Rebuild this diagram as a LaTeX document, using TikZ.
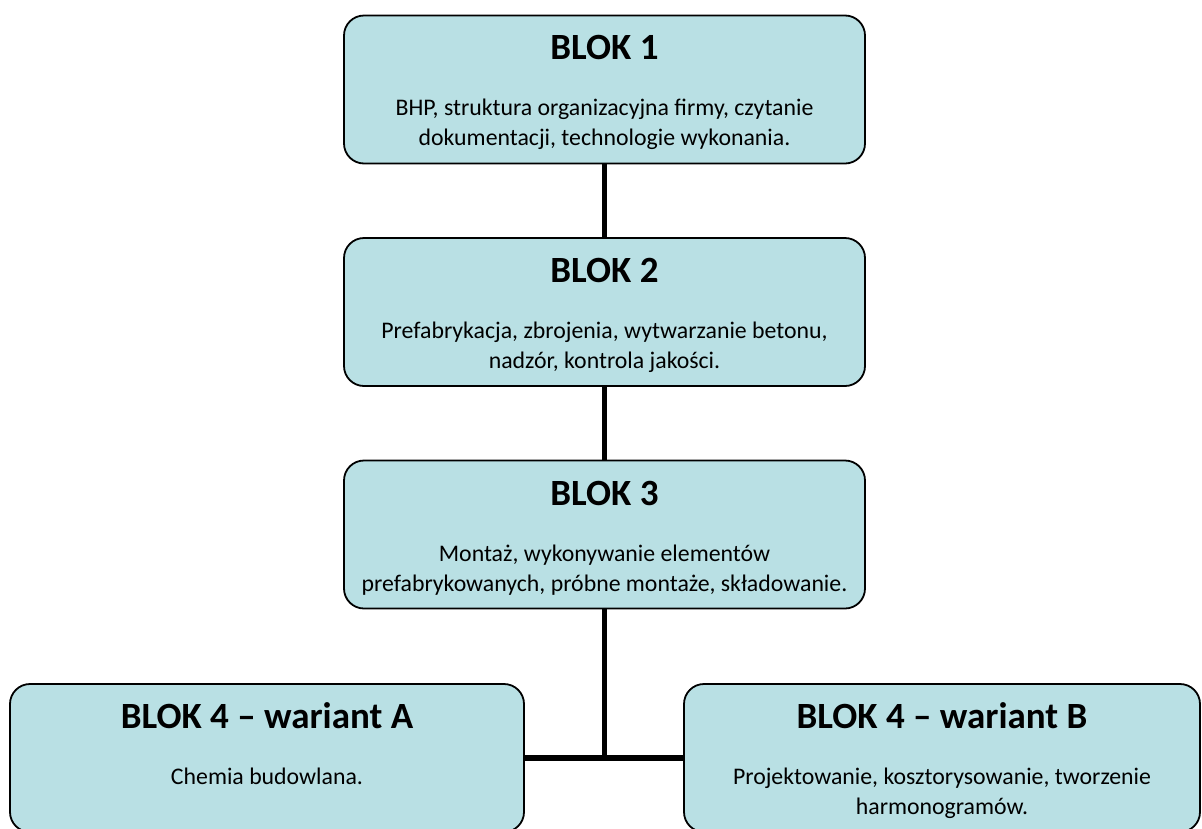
\documentclass[tikz,border=0pt]{standalone}
\usepackage{fontspec}
\setmainfont{Carlito}
\definecolor{boxfill}{RGB}{185,224,228}
\begin{document}
\begin{tikzpicture}[x=1pt,y=-1pt,
  blok/.style={draw=black, line width=1.8pt, fill=boxfill, rounded corners=20pt,
    minimum height=148pt, inner sep=0pt, outer sep=0pt},
  wide/.style={minimum width=521pt},
  title/.style={font=\fontsize{37}{40}\selectfont\bfseries, anchor=base, inner sep=0pt},
  body/.style={font=\fontsize{23.8}{28}\selectfont, anchor=base, inner sep=0pt},
  link/.style={draw=black, line width=5.5pt}
]
\useasboundingbox (0,0) rectangle (1202,828);
\clip (0,0) rectangle (1202,828);
% boxes
\node[blok, wide] (b1) at (604.5,89.5) {};
\node[blok, wide] (b2) at (604.5,312) {};
\node[blok, wide] (b3) at (604.5,534.5) {};
\node[blok, minimum width=514pt] (b4a) at (267,758) {};
\node[blok, minimum width=516pt] (b4b) at (942,758) {};
% texts
\node[title] (t1) at (604.5,59.5) {BLOK 1};
\node[body] (t1a) at (604.5,115) {BHP, struktura organizacyjna firmy, czytanie};
\node[body] (t1b) at (604.5,145) {dokumentacji, technologie wykonania.};
\node[title] (t2) at (604.5,282.5) {BLOK 2};
\node[body] (t2a) at (604.5,338) {Prefabrykacja, zbrojenia, wytwarzanie betonu,};
\node[body] (t2b) at (604.5,368) {nadzór, kontrola jakości.};
\node[title] (t3) at (604.5,505.5) {BLOK 3};
\node[body] (t3a) at (604.5,561) {Montaż, wykonywanie elementów};
\node[body] (t3b) at (604.5,591) {prefabrykowanych, próbne montaże, składowanie.};
\node[title] (t4a) at (267,728.5) {BLOK 4 – wariant A};
\node[body] (t4a1) at (267,784) {Chemia budowlana.};
\node[title] (t4b) at (942,728.5) {BLOK 4 – wariant B};
\node[body] (t4b1) at (942,784) {Projektowanie, kosztorysowanie, tworzenie};
\node[body] (t4b2) at (942,814) {harmonogramów.};
% connectors
\coordinate (j) at (b3.south |- b4a.east);
\draw[link] (b1.south) -- (b2.north);
\draw[link] (b2.south) -- (b3.north);
\draw[link] (b3.south) -- (j);
\draw[link] (b4a.east) -- (b4b.west);
\end{tikzpicture}
\end{document}
